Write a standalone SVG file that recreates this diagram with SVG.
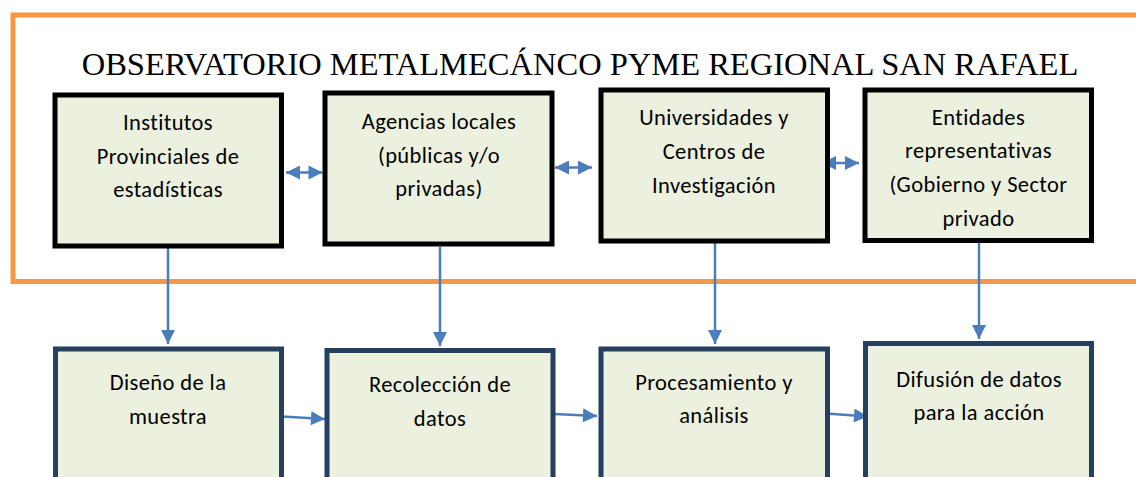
<svg xmlns="http://www.w3.org/2000/svg" width="1136" height="477" viewBox="0 0 1136 477">
<style>
.top{fill:#ebf1de;stroke:#000;stroke-width:5}
.bot{fill:#ebf1de;stroke:#243f60;stroke-width:5}
.lbl{font-family:Carlito,Lato,"Liberation Sans",sans-serif;font-size:22.5px;letter-spacing:0.4px;fill:#000;text-anchor:middle}
.title{font-family:"Liberation Serif",serif;font-size:32.5px;fill:#000;text-anchor:middle}
.con{stroke:#4a7ebb;stroke-width:2.5;fill:none}
</style>
<defs>
<marker id="ah" viewBox="0 0 10 10" refX="10" refY="5" markerUnits="userSpaceOnUse" markerWidth="15" markerHeight="14" orient="auto-start-reverse">
<path d="M0,0 L10,5 L0,10 z" fill="#4a7ebb"/>
</marker>
</defs>
<rect width="1136" height="477" fill="#fff"/>
<g id="frame">
<rect x="13" y="15" width="1140" height="266.5" fill="none" stroke="#f79646" stroke-width="5"/>
<text class="title" x="580" y="75">OBSERVATORIO METALMECÁNCO PYME REGIONAL SAN RAFAEL</text>
</g>
<g id="connectors">
<line class="con" x1="168" y1="248" x2="168" y2="344" marker-end="url(#ah)"/>
<line class="con" x1="440" y1="247" x2="440" y2="346" marker-end="url(#ah)"/>
<line class="con" x1="715" y1="243" x2="715" y2="344" marker-end="url(#ah)"/>
<line class="con" x1="979" y1="242" x2="979" y2="339" marker-end="url(#ah)"/>
<line class="con" x1="286" y1="172.5" x2="322.5" y2="172.5" marker-start="url(#ah)" marker-end="url(#ah)"/>
<line class="con" x1="555" y1="167.5" x2="592" y2="167.5" marker-start="url(#ah)" marker-end="url(#ah)"/>
<line class="con" x1="822" y1="163" x2="859" y2="163" marker-start="url(#ah)" marker-end="url(#ah)"/>
<line class="con" x1="282" y1="416.5" x2="325" y2="419" marker-end="url(#ah)"/>
<line class="con" x1="554" y1="414" x2="597" y2="416" marker-end="url(#ah)"/>
<line class="con" x1="826" y1="413.5" x2="868" y2="416.5" marker-end="url(#ah)"/>
</g>
<g id="n1">
<rect class="top" x="55" y="95" width="226.5" height="151"/>
<text class="lbl" x="168" y="130">Institutos</text>
<text class="lbl" x="168" y="164">Provinciales de</text>
<text class="lbl" x="168" y="197">estadísticas</text>
</g>
<g id="n2">
<rect class="top" x="325" y="93" width="227" height="151"/>
<text class="lbl" x="439" y="129">Agencias locales</text>
<text class="lbl" x="439" y="163">(públicas y/o</text>
<text class="lbl" x="439" y="196">privadas)</text>
</g>
<g id="n3">
<rect class="top" x="601" y="90" width="226.5" height="151"/>
<text class="lbl" x="714" y="125">Universidades y</text>
<text class="lbl" x="714" y="159">Centros de</text>
<text class="lbl" x="714" y="193">Investigación</text>
</g>
<g id="n4">
<rect class="top" x="865" y="90" width="226.5" height="150.5"/>
<text class="lbl" x="978.5" y="125">Entidades</text>
<text class="lbl" x="978.5" y="158">representativas</text>
<text class="lbl" x="978.5" y="192">(Gobierno y Sector</text>
<text class="lbl" x="978.5" y="226">privado</text>
</g>
<g id="n5">
<rect class="bot" x="55.5" y="349" width="226" height="140"/>
<text class="lbl" x="168" y="390">Diseño de la</text>
<text class="lbl" x="168" y="424">muestra</text>
</g>
<g id="n6">
<rect class="bot" x="327" y="350.5" width="226" height="140"/>
<text class="lbl" x="440" y="392">Recolección de</text>
<text class="lbl" x="440" y="426">datos</text>
</g>
<g id="n7">
<rect class="bot" x="601" y="349" width="226.5" height="140"/>
<text class="lbl" x="714" y="390">Procesamiento y</text>
<text class="lbl" x="714" y="423">análisis</text>
</g>
<g id="n8">
<rect class="bot" x="865.5" y="343.5" width="226" height="145"/>
<text class="lbl" x="979" y="387">Difusión de datos</text>
<text class="lbl" x="979" y="420">para la acción</text>
</g>
</svg>
